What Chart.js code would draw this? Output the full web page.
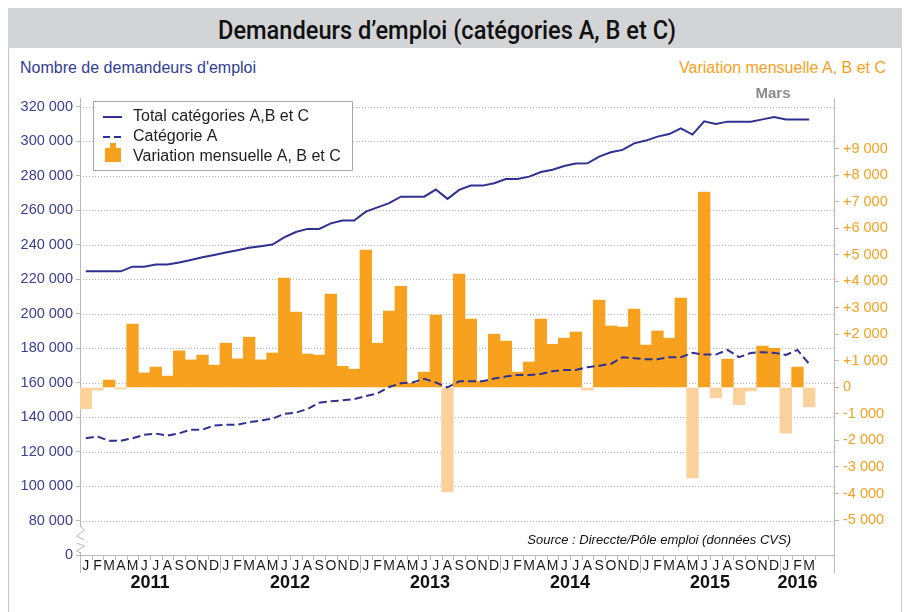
<!DOCTYPE html>
<html><head><meta charset="utf-8">
<script src="https://cdn.jsdelivr.net/npm/chart.js@4/dist/chart.umd.min.js"></script>
<style>
html,body{margin:0;padding:0;background:#fff;}
#wrap{position:relative;width:909px;height:612px;overflow:hidden;font-family:"Liberation Sans",Arial,sans-serif;}
#frame{position:absolute;left:8px;top:8px;width:894px;height:700px;border:1px solid #c8c8c8;box-sizing:border-box;}
#titlebar{position:absolute;left:8px;top:8px;width:894px;height:40px;background:#d3d4d6;}
#title{position:absolute;left:447px;top:20px;transform-origin:0 0;white-space:nowrap;font-family:Roboto,"DejaVu Sans",sans-serif;font-weight:500;font-size:25px;line-height:25px;color:#111;}
.sub{position:absolute;top:59px;font-size:16px;line-height:18px;white-space:nowrap;}
#subl{left:20px;color:#2f3d96;}
#subr{right:23px;color:#f7a11e;}
#c{position:absolute;left:0;top:0;}
</style></head>
<body>
<div id="wrap">
  <div id="frame"></div>
  <div id="titlebar"></div>
  <div id="title">Demandeurs d’emploi (catégories A, B et C)</div>
  <div class="sub" id="subl">Nombre de demandeurs d'emploi</div>
  <div class="sub" id="subr">Variation mensuelle A, B et C</div>
  <canvas id="c" width="909" height="612"></canvas>
</div>
<script>
const months = ['J','F','M','A','M','J','J','A','S','O','N','D',
                'J','F','M','A','M','J','J','A','S','O','N','D',
                'J','F','M','A','M','J','J','A','S','O','N','D',
                'J','F','M','A','M','J','J','A','S','O','N','D',
                'J','F','M','A','M','J','J','A','S','O','N','D',
                'J','F','M'];
const years = ['2011','2012','2013','2014','2015','2016'];
const yearStart = [0,12,24,36,48,60];
const legendLabels = ['Total catégories A,B et C','Catégorie A','Variation mensuelle A, B et C'];

const totalABC = [224500,224500,224500,224500,227200,227200,228400,228400,229600,231100,232600,234000,
                  235400,236700,238100,239000,240000,244200,247300,249100,249100,252300,253900,253900,
                  259100,261600,264000,267800,267800,267800,271900,266500,271700,274200,274200,275600,
                  278000,278000,279400,282100,283400,285600,287000,287100,291000,293500,294900,298700,
                  300300,302600,304100,307400,303800,311500,310000,311300,311300,311300,312600,314000,
                  312600,312600,312600];
const catA = [127700,128700,126200,126200,127700,129700,130400,129300,130600,132700,132700,135100,
              135500,135500,137000,138000,139100,141800,142500,144700,148300,149100,149700,150400,
              152100,153700,157400,159600,160000,162200,160000,157200,160700,160700,160700,162300,
              163500,164400,164400,165000,166600,167300,167300,168900,169800,170800,174700,174100,
              173500,173500,174700,174700,177200,176200,176200,178900,174700,177200,177600,177200,
              176000,178900,170800];
const variation = [-800,-100,280,-60,2390,550,770,430,1380,1040,1220,840,
                   1670,1080,1900,1040,1300,4130,2840,1260,1220,3520,800,690,
                   5180,1670,2880,3820,160,580,2730,-3940,4280,2580,240,2010,
                   1750,580,960,2580,1630,1860,2090,-100,3300,2320,2280,2960,
                   1600,2130,1860,3370,-3410,7370,-390,1070,-650,-130,1560,1480,
                   -1720,770,-730];
const leftTicks = [60000,80000,100000,120000,140000,160000,180000,200000,220000,240000,260000,280000,300000,320000];
const rightTicks = [-5000,-4000,-3000,-2000,-1000,0,1000,2000,3000,4000,5000,6000,7000,8000,9000];

const NAVY = '#2e3192';
const ORANGE = '#f8a11f';
const LIGHT = '#fdd19c';
const AXIS = '#b9b9b9';
const BLUE = '#3b3d97';
const FONT = '"Liberation Sans", Arial, sans-serif';

(function(){
  const t = document.getElementById('title');
  const w = t.getBoundingClientRect().width;
  const s = 458 / w;
  t.style.transform = 'translate(' + (-229) + 'px,-2px) scaleX(' + s + ')';
})();

function fmt(v){
  const s = Math.abs(v).toString().replace(/\B(?=(\d{3})+(?!\d))/g,' ');
  return (v<0?'-':'') + s;
}

const decor = {
  id:'decor',
  beforeDatasetsDraw(chart){
    const {ctx, chartArea:a} = chart;
    const yL = chart.scales.yL;
    ctx.save();
    ctx.strokeStyle = '#b3b3b3';
    ctx.lineWidth = 1;
    ctx.setLineDash([1,2]);
    leftTicks.forEach(v=>{
      if (v===60000) return;
      const y = Math.round(yL.getPixelForValue(v))+0.5;
      ctx.beginPath(); ctx.moveTo(a.left, y); ctx.lineTo(a.right, y); ctx.stroke();
    });
    ctx.restore();
  },
  afterDraw(chart){
    const {ctx, chartArea:a} = chart;
    const xs = chart.scales.x;
    ctx.save();
    ctx.strokeStyle = AXIS; ctx.lineWidth = 1;
    for (let i=0;i<=months.length;i++){
      const x = Math.round(xs.getPixelForValue(i-0.5))+0.5;
      ctx.beginPath(); ctx.moveTo(x, a.bottom); ctx.lineTo(x, a.bottom+5); ctx.stroke();
    }
    yearStart.forEach(i=>{
      const x = Math.round(xs.getPixelForValue(i-0.5))+0.5;
      ctx.beginPath(); ctx.moveTo(x, a.bottom); ctx.lineTo(x, a.bottom+18); ctx.stroke();
    });
    ctx.beginPath(); ctx.moveTo(Math.round(a.right)+0.5, a.bottom); ctx.lineTo(Math.round(a.right)+0.5, a.bottom+18); ctx.stroke();
    ctx.fillStyle = '#111';
    ctx.font = 'bold 18px ' + FONT;
    ctx.textAlign = 'center'; ctx.textBaseline = 'middle';
    years.forEach((y,k)=>{
      const s = yearStart[k];
      const e = k+1<yearStart.length ? yearStart[k+1] : months.length;
      const x = (xs.getPixelForValue(s-0.5)+xs.getPixelForValue(e-0.5))/2;
      ctx.fillText(y, x, a.bottom+28);
    });
    const ax = Math.round(a.left)+0.5;
    ctx.fillStyle = '#fff';
    ctx.fillRect(ax-4, 527, 8, 25);
    ctx.beginPath();
    ctx.moveTo(ax, 526); ctx.lineTo(ax+4, 530); ctx.lineTo(ax-4, 536); ctx.lineTo(ax+4, 540);
    ctx.moveTo(ax-4, 543); ctx.lineTo(ax+4, 546); ctx.lineTo(ax-4, 551); ctx.lineTo(ax, 553);
    ctx.stroke();
    ctx.fillStyle = '#fff';
    ctx.fillRect(93.5, 101.5, 259, 69);
    ctx.strokeStyle = '#a8a8a8';
    ctx.strokeRect(93.5, 101.5, 259, 69);
    ctx.strokeStyle = NAVY; ctx.lineWidth = 2;
    ctx.beginPath(); ctx.moveTo(103, 117); ctx.lineTo(122, 117); ctx.stroke();
    ctx.setLineDash([7,4]);
    ctx.beginPath(); ctx.moveTo(103, 137); ctx.lineTo(122, 137); ctx.stroke();
    ctx.setLineDash([]);
    ctx.fillStyle = ORANGE;
    ctx.fillRect(105, 148, 16, 14);
    ctx.fillRect(110, 143, 6, 5);
    ctx.fillStyle = '#1e1e1e';
    ctx.font = '16px ' + FONT;
    ctx.textAlign = 'left'; ctx.textBaseline = 'middle';
    legendLabels.forEach((t,k)=>ctx.fillText(t, 133, 117+20*k));
    ctx.fillStyle = '#8b8b8b';
    ctx.font = 'bold 15px ' + FONT;
    ctx.textAlign = 'center';
    ctx.fillText('Mars', 773, 94);
    ctx.fillStyle = '#111';
    ctx.font = 'italic 13px ' + FONT;
    ctx.textAlign = 'right';
    ctx.fillText('Source : Direccte/Pôle emploi (données CVS)', 791, 540);
    ctx.restore();
  }
};

new Chart(document.getElementById('c'), {
  type:'bar',
  data:{
    datasets:[
      {type:'line', label:legendLabels[0], data: totalABC.map((v,i)=>({x:i,y:v})), yAxisID:'yL',
       borderColor:NAVY, borderWidth:2, pointRadius:0, tension:0, order:1},
      {type:'line', label:legendLabels[1], data: catA.map((v,i)=>({x:i,y:v})), yAxisID:'yL',
       borderColor:NAVY, borderWidth:2, borderDash:[8,4], pointRadius:0, tension:0, order:1},
      {type:'bar', label:legendLabels[2], data: variation.map((v,i)=>({x:i,y:v})), yAxisID:'yR',
       backgroundColor: c => (c.parsed && c.parsed.y < 0) ? LIGHT : ORANGE,
       borderWidth:0, categoryPercentage:1, barPercentage:1, order:2}
    ]
  },
  options:{
    responsive:false, animation:false, devicePixelRatio:1,
    layout:{padding:{top:98,left:0,right:0,bottom:0}},
    plugins:{legend:{display:false}, tooltip:{enabled:false}},
    scales:{
      x:{type:'linear', min:-0.5, max:64.13, offset:false,
         afterBuildTicks: s => { s.ticks = months.map((m,i)=>({value:i})); },
         afterFit: s => { s.height = 57; },
         grid:{display:true, drawOnChartArea:false, drawTicks:false, color:'rgba(0,0,0,0)'},
         border:{display:true, color:AXIS},
         ticks:{autoSkip:false, maxRotation:0, minRotation:0, padding:3, color:'#1a1a1a',
                font:{size:14, family:FONT}, callback: v => months[v] ?? ''}},
      yL:{type:'linear', position:'left', min:60000, max:325000,
          afterBuildTicks: s => { s.ticks = leftTicks.map(v=>({value:v})); },
          afterFit: s => { s.width = 80; },
          grid:{drawOnChartArea:false, drawTicks:true, tickLength:4, color:AXIS},
          border:{display:true, color:AXIS},
          ticks:{padding:3, color:BLUE, font:{size:14.5, family:FONT},
                 callback: v => v===60000 ? '0' : fmt(v)}},
      yR:{type:'linear', position:'right', min:-6320, max:10920,
          afterBuildTicks: s => { s.ticks = rightTicks.map(v=>({value:v})); },
          afterFit: s => { s.width = 75; },
          grid:{drawOnChartArea:false, drawTicks:true, tickLength:5, color:AXIS},
          border:{display:true, color:AXIS},
          ticks:{padding:4, color:'#f5a020', font:{size:14.5, family:FONT},
                 callback: v => v>0 ? '+'+fmt(v) : fmt(v)}}
    }
  },
  plugins:[decor]
});
</script>
</body></html>
